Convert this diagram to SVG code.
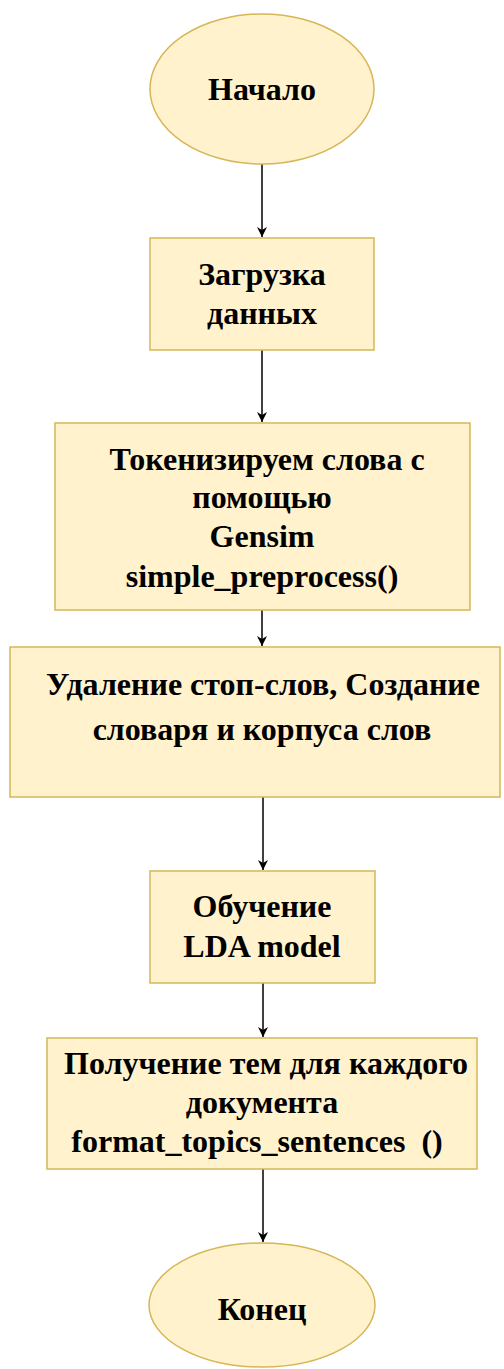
<svg xmlns="http://www.w3.org/2000/svg" width="504" height="1369" viewBox="0 0 504 1369">
<style>
.n{fill:#fff2cc;stroke:#d6b656;stroke-width:1.5}
.t{font-family:'Liberation Serif','DejaVu Serif',serif;font-size:32px;font-weight:bold;fill:#000;text-anchor:middle}
.c{stroke:#000;stroke-width:1.5;fill:none;marker-end:url(#ah)}
</style>
<defs>
<marker id="ah" markerWidth="12" markerHeight="12" refX="10" refY="5" orient="auto" markerUnits="userSpaceOnUse">
<path d="M0,0 L10,5 L0,10 L3,5 Z" fill="#000"/>
</marker>
</defs>
<rect width="504" height="1369" fill="#fff"/>
<g id="connectors">
<line class="c" x1="262" y1="164" x2="262" y2="237"/>
<line class="c" x1="262" y1="350" x2="262" y2="422"/>
<line class="c" x1="262" y1="610" x2="262" y2="646"/>
<line class="c" x1="263" y1="797" x2="263" y2="870"/>
<line class="c" x1="263" y1="983" x2="263" y2="1037"/>
<line class="c" x1="263" y1="1169" x2="263" y2="1242"/>
</g>
<g id="start">
<ellipse class="n" cx="262" cy="89" rx="112" ry="75"/>
<text class="t" x="262" y="100">Начало</text>
</g>
<g id="load">
<rect class="n" x="150" y="238" width="224" height="112"/>
<text class="t" x="262" y="285">Загрузка</text>
<text class="t" x="262" y="324">данных</text>
</g>
<g id="tokenize">
<rect class="n" x="55" y="423" width="415" height="187"/>
<text class="t" x="267" y="470">Токенизируем слова с</text>
<text class="t" x="262" y="508">помощью</text>
<text class="t" x="262" y="547">Gensim</text>
<text class="t" x="262" y="587">simple_preprocess()</text>
</g>
<g id="stopwords">
<rect class="n" x="10" y="647" width="490" height="150"/>
<text class="t" x="263" y="695">Удаление стоп-слов, Создание</text>
<text class="t" x="262" y="740">словаря и корпуса слов</text>
</g>
<g id="train">
<rect class="n" x="150" y="871" width="225" height="112"/>
<text class="t" x="262" y="917">Обучение</text>
<text class="t" x="262" y="957">LDA model</text>
</g>
<g id="topics">
<rect class="n" x="47" y="1038" width="430" height="131"/>
<text class="t" x="266" y="1074">Получение тем для каждого</text>
<text class="t" x="262" y="1113">документа</text>
<text class="t" x="257" y="1152" xml:space="preserve">format_topics_sentences  ()</text>
</g>
<g id="end">
<ellipse class="n" cx="262" cy="1305" rx="113" ry="62"/>
<text class="t" x="262" y="1320">Конец</text>
</g>
</svg>
